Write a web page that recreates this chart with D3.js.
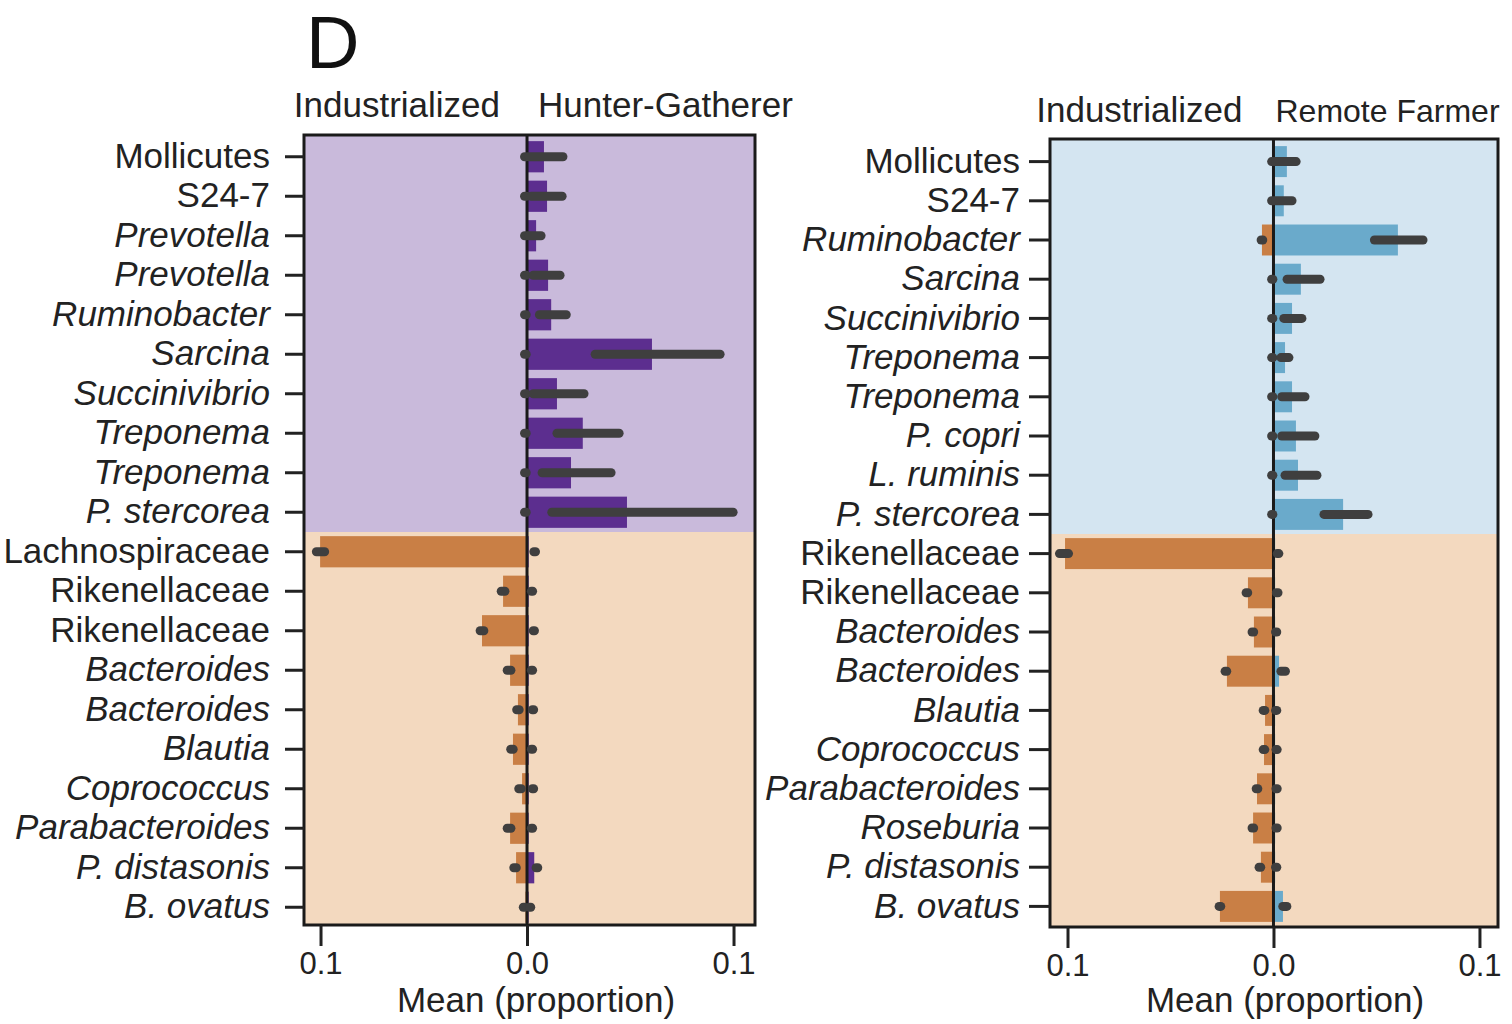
<!DOCTYPE html>
<html>
<head>
<meta charset="utf-8">
<style>
    body { margin: 0; background: #fff; }
    svg { display: block; font-family: "Liberation Sans", Arial, sans-serif; }
    .tick line { stroke: #222; stroke-width: 3; }
    .y .tick text { font-size: 35px; fill: #222; }
    .x .tick text { font-size: 31px; fill: #222; }
    .domain { display: none; }
    .head { font-size: 35px; fill: #222; }
    .axis-label { font-size: 35px; fill: #222; text-anchor: middle; }
</style>
</head>
<body>
<svg width="1512" height="1024"></svg>
<script src="https://d3js.org/d3.v7.min.js"></script>
<script>

// left panel: industrialized vs hunter-gatherer
const leftLabels = ["Mollicutes", "S24-7", "Prevotella", "Prevotella", "Ruminobacter", "Sarcina",
    "Succinivibrio", "Treponema", "Treponema", "P. stercorea", "Lachnospiraceae", "Rikenellaceae",
    "Rikenellaceae", "Bacteroides", "Bacteroides", "Blautia", "Coprococcus", "Parabacteroides",
    "P. distasonis", "B. ovatus"]
const leftIndMean = [-0.0004, -0.0004, -0.0004, -0.0004, -0.0004, -0.0004, -0.0004, -0.0004, -0.0004, -0.0004,
    -0.1002, -0.0116, -0.0218, -0.0082, -0.0044, -0.0068, -0.0024, -0.0082, -0.0053, -0.0008]
const leftIndLow = [-0.0012, -0.0012, -0.0012, -0.0012, -0.0012, -0.0012, -0.0012, -0.0012, -0.0012, -0.0012,
    -0.102, -0.0125, -0.0227, -0.0096, -0.005, -0.0079, -0.004, -0.0096, -0.0064, -0.0018]
const leftIndHigh = [-0.0004, -0.0004, -0.0004, -0.0004, -0.0004, -0.0004, -0.0004, -0.0004, -0.0004, -0.0004,
    -0.098, -0.0107, -0.0209, -0.0078, -0.0038, -0.0067, -0.0028, -0.0078, -0.0052, -0.0012]
const leftHgMean = [0.0082, 0.0097, 0.0044, 0.0102, 0.0117, 0.0605, 0.0145, 0.027, 0.0213, 0.0484,
    0.0008, 0.0008, 0.0008, 0.0008, 0.0008, 0.0008, 0.0008, 0.0008, 0.0035, 0.0008]
const leftHgLow = [0.001, 0.002, 0.001, 0.003, 0.006, 0.033, 0.003, 0.0145, 0.0073, 0.012,
    0.0033, 0.0021, 0.003, 0.0021, 0.0026, 0.0021, 0.0026, 0.0021, 0.0044, 0.0012]
const leftHgHigh = [0.0174, 0.017, 0.0068, 0.016, 0.019, 0.0935, 0.0276, 0.0446, 0.0407, 0.0998,
    0.0041, 0.0027, 0.0036, 0.0027, 0.0032, 0.0027, 0.0032, 0.0027, 0.0052, 0.0018]

// right panel: industrialized vs remote farmer
const rightLabels = ["Mollicutes", "S24-7", "Ruminobacter", "Sarcina", "Succinivibrio", "Treponema",
    "Treponema", "P. copri", "L. ruminis", "P. stercorea", "Rikenellaceae", "Rikenellaceae",
    "Bacteroides", "Bacteroides", "Blautia", "Coprococcus", "Parabacteroides", "Roseburia",
    "P. distasonis", "B. ovatus"]
const rightIndMean = [-0.0005, -0.0005, -0.0056, -0.0005, -0.0005, -0.0005, -0.0005, -0.0005, -0.0005, -0.0005,
    -0.1012, -0.0124, -0.0095, -0.0226, -0.0041, -0.0046, -0.008, -0.0099, -0.0061, -0.026]
const rightIndLow = [-0.0009, -0.0009, -0.006, -0.0009, -0.0009, -0.0009, -0.0009, -0.0009, -0.0009, -0.0009,
    -0.1039, -0.0133, -0.0104, -0.0235, -0.005, -0.005, -0.0084, -0.0104, -0.007, -0.0264]
const rightIndHigh = [-0.0003, -0.0003, -0.0052, -0.0003, -0.0003, -0.0003, -0.0003, -0.0003, -0.0003, -0.0003,
    -0.0995, -0.0125, -0.0096, -0.0227, -0.0042, -0.0042, -0.0076, -0.0096, -0.0062, -0.0256]
const rightRfMean = [0.0065, 0.005, 0.0604, 0.0133, 0.009, 0.0056, 0.009, 0.0109, 0.0119, 0.0338,
    0.0008, 0.0008, 0.0008, 0.0027, 0.0008, 0.0008, 0.0008, 0.0008, 0.0008, 0.0046]
const rightRfLow = [0.001, 0.001, 0.049, 0.0066, 0.005, 0.0036, 0.004, 0.004, 0.0056, 0.0245,
    0.0018, 0.0014, 0.001, 0.0036, 0.001, 0.0012, 0.0012, 0.0012, 0.001, 0.0045]
const rightRfHigh = [0.011, 0.009, 0.0726, 0.0226, 0.0138, 0.0075, 0.0153, 0.0201, 0.0211, 0.0459,
    0.0026, 0.0022, 0.0016, 0.0058, 0.0016, 0.0018, 0.0018, 0.0018, 0.0016, 0.0065]

const xTicks = [-0.1, 0, 0.1]
const plainNames = ["Mollicutes", "S24-7", "Lachnospiraceae", "Rikenellaceae"]

const orangeBg = "#f3d9bf", orangeBar = "#c97f45", errColor = "#3f3f3f"

let svg = d3.select("svg")

function drawPanel(p) {
    let x = d3.scaleLinear().domain(p.xDomain).range([p.left, p.right])
    let y = d3.scaleBand().domain(d3.range(p.labels.length))
        .range(p.yRange).paddingInner(0.21).paddingOuter(0.105)
    let gap = y.step() - y.bandwidth()
    let split = y(10) - gap / 2

    let g = svg.append("g")

    // section backgrounds
    g.append("rect").attr("x", p.left).attr("y", p.top)
        .attr("width", p.right - p.left).attr("height", split - p.top)
        .attr("fill", p.topBg)
    g.append("rect").attr("x", p.left).attr("y", split)
        .attr("width", p.right - p.left).attr("height", p.bottom - split)
        .attr("fill", orangeBg)

    // bars
    let rows = d3.range(p.labels.length)
    function bars(mean, color) {
        g.append("g").selectAll("rect")
            .data(rows)
            .join("rect")
            .attr("x", i => x(Math.min(0, mean[i])))
            .attr("width", i => Math.abs(x(mean[i]) - x(0)))
            .attr("y", i => y(i))
            .attr("height", y.bandwidth())
            .attr("fill", color)
    }
    bars(p.indMean, orangeBar)
    bars(p.otherMean, p.barColor)

    // zero line
    g.append("line")
        .attr("x1", x(0)).attr("x2", x(0))
        .attr("y1", p.top).attr("y2", p.bottom)
        .attr("stroke", "#1a1a1a").attr("stroke-width", 3)

    // error bars
    function errs(lo, hi) {
        g.append("g").selectAll("line")
            .data(rows)
            .join("line")
            .attr("x1", i => x(lo[i]))
            .attr("x2", i => x(hi[i]))
            .attr("y1", i => y(i) + y.bandwidth() / 2)
            .attr("y2", i => y(i) + y.bandwidth() / 2)
            .attr("stroke", errColor)
            .attr("stroke-width", 9)
            .attr("stroke-linecap", "round")
    }
    errs(p.indLow, p.indHigh)
    errs(p.otherLow, p.otherHigh)

    // frame
    g.append("rect")
        .attr("x", p.left).attr("y", p.top)
        .attr("width", p.right - p.left).attr("height", p.bottom - p.top)
        .attr("fill", "none").attr("stroke", "#1a1a1a").attr("stroke-width", 3)

    // axes
    g.append("g")
        .attr("class", "x axis")
        .attr("transform", `translate(0, ${p.bottom})`)
        .call(d3.axisBottom(x).tickValues(xTicks).tickSize(21).tickPadding(6)
            .tickFormat(d => d3.format(".1f")(Math.abs(d))))

    g.append("g")
        .attr("class", "y axis")
        .attr("transform", `translate(${p.left}, 0)`)
        .call(d3.axisLeft(y).tickSize(p.tickLen).tickPadding(p.labelPad)
            .tickFormat(i => p.labels[i]))
        .selectAll(".tick text")
        .style("font-style", i => plainNames.includes(p.labels[i]) ? "normal" : "italic")

    // headers
    g.append("text").attr("class", "head")
        .attr("x", x(0) - p.headGapL).attr("y", p.headY)
        .attr("text-anchor", "end").text("Industrialized")
    g.append("text").attr("class", "head")
        .attr("x", x(0) + p.headGapR).attr("y", p.headY)
        .style("font-size", p.otherSize)
        .text(p.otherName)

    g.append("text").attr("class", "axis-label")
        .attr("x", p.labelX).attr("y", 1012)
        .text("Mean (proportion)")
}

drawPanel({
    labels: leftLabels,
    indMean: leftIndMean, indLow: leftIndLow, indHigh: leftIndHigh,
    otherMean: leftHgMean, otherLow: leftHgLow, otherHigh: leftHgHigh,
    otherName: "Hunter-Gatherer", otherSize: "35px",
    xDomain: [-0.108, 0.1104],
    left: 304, right: 755, top: 135, bottom: 925,
    yRange: [137, 927],
    topBg: "#c9badb", barColor: "#5c2e8f",
    tickLen: 19, labelPad: 15,
    headY: 117, headGapL: 27, headGapR: 11,
    labelX: 536
})

drawPanel({
    labels: rightLabels,
    indMean: rightIndMean, indLow: rightIndLow, indHigh: rightIndHigh,
    otherMean: rightRfMean, otherLow: rightRfLow, otherHigh: rightRfHigh,
    otherName: "Remote Farmer", otherSize: "32px",
    xDomain: [-0.1085, 0.109],
    left: 1050, right: 1498, top: 139, bottom: 927,
    yRange: [142, 926],
    topBg: "#d4e5f1", barColor: "#6aaacb",
    tickLen: 21, labelPad: 9,
    headY: 122, headGapL: 31, headGapR: 2,
    labelX: 1285
})

svg.append("text")
    .attr("x", 306)
    .attr("y", 68)
    .style("font-size", "74px")
    .style("fill", "#111")
    .text("D")

</script>
</body>
</html>
